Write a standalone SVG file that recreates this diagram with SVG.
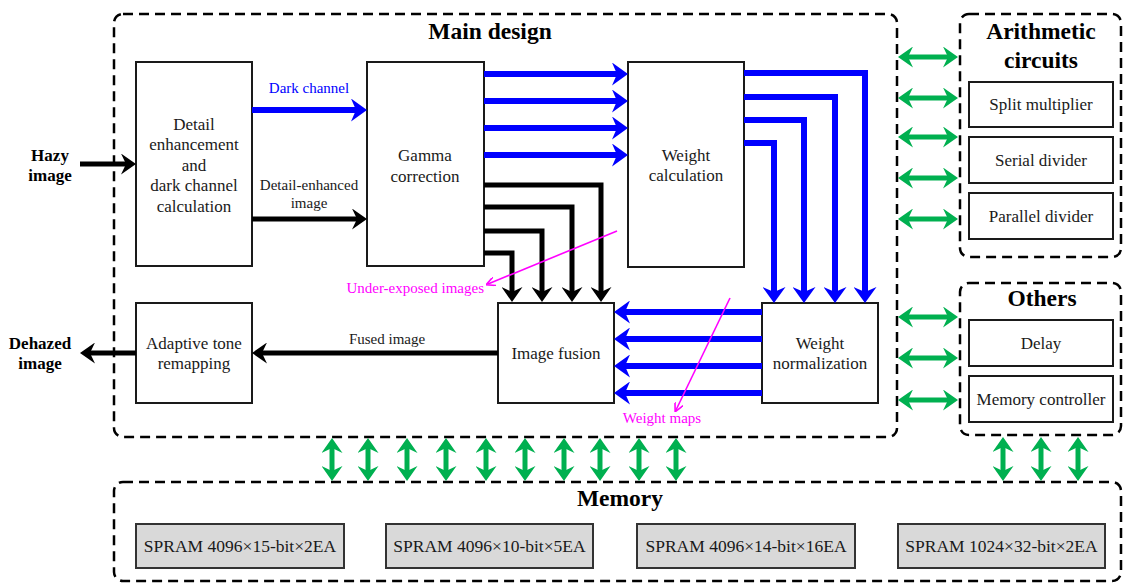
<svg xmlns="http://www.w3.org/2000/svg" width="1124" height="583" viewBox="0 0 1124 583">
  <style>
    .blk { fill: #ffffff; stroke: #1a1a1a; stroke-width: 2; }
    .mem { fill: #d9d9d9; stroke: #333333; stroke-width: 2; }
    .grp { fill: none; stroke: #000000; stroke-width: 2.5; stroke-dasharray: 10 6; }
    .t  { font-family: "Liberation Serif", "Times New Roman", serif; fill: #1a1a1a; text-anchor: middle; }
    .bx { font-size: 17px; }
    .sm { font-size: 17px; }
    .sp { font-size: 17.5px; }
    .lb { font-size: 15px; }
    .hd { font-size: 23.5px; font-weight: bold; fill: #000000; }
    .io { font-size: 17px; font-weight: bold; fill: #000000; }
    .k  { fill: none; stroke: #000000; stroke-width: 5; stroke-linejoin: miter; marker-end: url(#hK); }
    .b  { fill: none; stroke: #0000ff; stroke-width: 6; stroke-linejoin: miter; marker-end: url(#hB); }
    .g  { fill: none; stroke: #00b050; stroke-width: 5; marker-start: url(#hG); marker-end: url(#hG); }
    .m  { fill: none; stroke: #ff00ff; stroke-width: 1.6; marker-end: url(#hM); }
  </style>
  <defs>
    <marker id="hK" markerUnits="userSpaceOnUse" markerWidth="15" markerHeight="21" viewBox="0 0 15 21" refX="6" refY="10.5" orient="auto">
      <path d="M0,0 L15,10.5 L0,21 L5,10.5 z" fill="#000000"/>
    </marker>
    <marker id="hB" markerUnits="userSpaceOnUse" markerWidth="16" markerHeight="23" viewBox="0 0 16 23" refX="6" refY="11.5" orient="auto">
      <path d="M0,0 L16,11.5 L0,23 L5,11.5 z" fill="#0000ff"/>
    </marker>
    <marker id="hG" markerUnits="userSpaceOnUse" markerWidth="15" markerHeight="21" viewBox="0 0 15 21" refX="6" refY="10.5" orient="auto-start-reverse">
      <path d="M0,0 L15,10.5 L0,21 L5,10.5 z" fill="#00b050"/>
    </marker>
    <marker id="hM" markerUnits="userSpaceOnUse" markerWidth="9" markerHeight="9" viewBox="0 0 9 9" refX="7" refY="4.5" orient="auto">
      <path d="M0,0 L9,4.5 L0,9" fill="none" stroke="#ff00ff" stroke-width="1.6"/>
    </marker>
  </defs>

  <!-- grouping frames -->
  <g id="frames">
    <rect class="grp" x="114" y="14" width="783" height="423" rx="9"/>
    <rect class="grp" x="960" y="14" width="161" height="243" rx="9"/>
    <rect class="grp" x="960" y="283" width="161" height="152" rx="9"/>
    <rect class="grp" x="114" y="482" width="1007" height="99" rx="9"/>
    <text class="t hd" x="490" y="39">Main design</text>
    <text class="t hd" x="1041" y="39">Arithmetic</text>
    <text class="t hd" x="1041" y="68">circuits</text>
    <text class="t hd" x="1042" y="306">Others</text>
    <text class="t hd" x="620" y="506">Memory</text>
  </g>

  <!-- processing blocks -->
  <g id="detail">
    <rect class="blk" x="136" y="62" width="116" height="204"/>
    <text class="t bx" x="194" y="130">Detail</text>
    <text class="t bx" x="194" y="150">enhancement</text>
    <text class="t bx" x="194" y="171">and</text>
    <text class="t bx" x="194" y="191">dark channel</text>
    <text class="t bx" x="194" y="212">calculation</text>
  </g>
  <g id="gamma">
    <rect class="blk" x="367" y="62" width="117" height="204"/>
    <text class="t bx" x="425" y="161">Gamma</text>
    <text class="t bx" x="425" y="182">correction</text>
  </g>
  <g id="weightcalc">
    <rect class="blk" x="628" y="62" width="116" height="205"/>
    <text class="t bx" x="686" y="161">Weight</text>
    <text class="t bx" x="686" y="181">calculation</text>
  </g>
  <g id="fusion">
    <rect class="blk" x="498" y="303" width="116" height="100"/>
    <text class="t bx" x="556" y="359">Image fusion</text>
  </g>
  <g id="weightnorm">
    <rect class="blk" x="762" y="303" width="116" height="100"/>
    <text class="t bx" x="820" y="349">Weight</text>
    <text class="t bx" x="820" y="369">normalization</text>
  </g>
  <g id="tonemap">
    <rect class="blk" x="136" y="303" width="116" height="100"/>
    <text class="t bx" x="194" y="349">Adaptive tone</text>
    <text class="t bx" x="194" y="369">remapping</text>
  </g>

  <!-- arithmetic / misc units -->
  <g id="splitmul">
    <rect class="blk" x="969" y="82" width="144" height="45"/>
    <text class="t sm" x="1041" y="110">Split multiplier</text>
  </g>
  <g id="serialdiv">
    <rect class="blk" x="969" y="137" width="144" height="46"/>
    <text class="t sm" x="1041" y="166">Serial divider</text>
  </g>
  <g id="paralleldiv">
    <rect class="blk" x="969" y="193" width="144" height="46"/>
    <text class="t sm" x="1041" y="222">Parallel divider</text>
  </g>
  <g id="delay">
    <rect class="blk" x="969" y="320" width="144" height="46"/>
    <text class="t sm" x="1041" y="349">Delay</text>
  </g>
  <g id="memctrl">
    <rect class="blk" x="969" y="376" width="144" height="46"/>
    <text class="t sm" x="1041" y="405">Memory controller</text>
  </g>

  <!-- memories -->
  <g id="spram1">
    <rect class="mem" x="136" y="524" width="208" height="44"/>
    <text class="t sp" x="240" y="552">SPRAM 4096×15-bit×2EA</text>
  </g>
  <g id="spram2">
    <rect class="mem" x="386" y="524" width="207" height="44"/>
    <text class="t sp" x="489.5" y="552">SPRAM 4096×10-bit×5EA</text>
  </g>
  <g id="spram3">
    <rect class="mem" x="637" y="524" width="218" height="44"/>
    <text class="t sp" x="746" y="552">SPRAM 4096×14-bit×16EA</text>
  </g>
  <g id="spram4">
    <rect class="mem" x="898" y="524" width="207" height="44"/>
    <text class="t sp" x="1001.5" y="552">SPRAM 1024×32-bit×2EA</text>
  </g>

  <!-- data-flow connectors -->
  <g id="connectors">
    <!-- input / output -->
    <line class="k" x1="80" y1="164" x2="127" y2="164"/>
    <line class="k" x1="136" y1="353" x2="89" y2="353"/>
    <line class="k" x1="498" y1="353" x2="261" y2="353"/>
    <line class="b" x1="252" y1="110" x2="357" y2="110"/>
    <line class="k" x1="252" y1="219" x2="358" y2="219"/>

    <!-- gamma to weight calculation -->
    <line class="b" x1="484" y1="74" x2="618" y2="74"/>
    <line class="b" x1="484" y1="101" x2="618" y2="101"/>
    <line class="b" x1="484" y1="128" x2="618" y2="128"/>
    <line class="b" x1="484" y1="155" x2="618" y2="155"/>

    <!-- gamma to image fusion -->
    <path class="k" d="M484,185 H601 V293"/>
    <path class="k" d="M484,207 H572 V293"/>
    <path class="k" d="M484,231 H542 V293"/>
    <path class="k" d="M484,253 H512 V293"/>

    <!-- weight calculation to normalization -->
    <path class="b" d="M744,73 H865 V293"/>
    <path class="b" d="M744,97 H835 V293"/>
    <path class="b" d="M744,120 H804 V293"/>
    <path class="b" d="M744,143 H774 V293"/>

    <!-- normalization to fusion -->
    <line class="b" x1="762" y1="312" x2="624" y2="312"/>
    <line class="b" x1="762" y1="339" x2="624" y2="339"/>
    <line class="b" x1="762" y1="366" x2="624" y2="366"/>
    <line class="b" x1="762" y1="393" x2="624" y2="393"/>

    <!-- annotation pointers -->
    <line class="m" x1="617" y1="231" x2="488" y2="284"/>
    <line class="m" x1="730" y1="298" x2="676" y2="410"/>

    <!-- bus links: main design to arithmetic / others -->
    <line class="g" x1="907" y1="57" x2="949" y2="57"/>
    <line class="g" x1="907" y1="98" x2="949" y2="98"/>
    <line class="g" x1="907" y1="137" x2="949" y2="137"/>
    <line class="g" x1="907" y1="178" x2="949" y2="178"/>
    <line class="g" x1="907" y1="219" x2="949" y2="219"/>
    <line class="g" x1="907" y1="317" x2="949" y2="317"/>
    <line class="g" x1="907" y1="358" x2="949" y2="358"/>
    <line class="g" x1="907" y1="400" x2="949" y2="400"/>

    <!-- bus links to memory -->
    <line class="g" x1="332" y1="447" x2="332" y2="472"/>
    <line class="g" x1="368" y1="447" x2="368" y2="472"/>
    <line class="g" x1="407" y1="447" x2="407" y2="472"/>
    <line class="g" x1="446" y1="447" x2="446" y2="472"/>
    <line class="g" x1="486" y1="447" x2="486" y2="472"/>
    <line class="g" x1="525" y1="447" x2="525" y2="472"/>
    <line class="g" x1="564" y1="447" x2="564" y2="472"/>
    <line class="g" x1="600" y1="447" x2="600" y2="472"/>
    <line class="g" x1="639" y1="447" x2="639" y2="472"/>
    <line class="g" x1="676" y1="447" x2="676" y2="472"/>
    <line class="g" x1="1003" y1="446" x2="1003" y2="472"/>
    <line class="g" x1="1041" y1="446" x2="1041" y2="472"/>
    <line class="g" x1="1078" y1="446" x2="1078" y2="472"/>
  </g>

  <!-- connector labels -->
  <g id="labels">
    <text class="t lb" x="309" y="93" style="fill:#0000ff">Dark channel</text>
    <text class="t lb" x="309" y="190">Detail-enhanced</text>
    <text class="t lb" x="309" y="208">image</text>
    <text class="t lb" x="387" y="344">Fused image</text>
    <text class="t lb" x="484" y="293" style="fill:#ff00ff;text-anchor:end">Under-exposed images</text>
    <text class="t lb" x="662" y="423" style="fill:#ff00ff">Weight maps</text>
    <text class="t io" x="50" y="161">Hazy</text>
    <text class="t io" x="50" y="181">image</text>
    <text class="t io" x="40" y="349">Dehazed</text>
    <text class="t io" x="40" y="369">image</text>
  </g>
</svg>
